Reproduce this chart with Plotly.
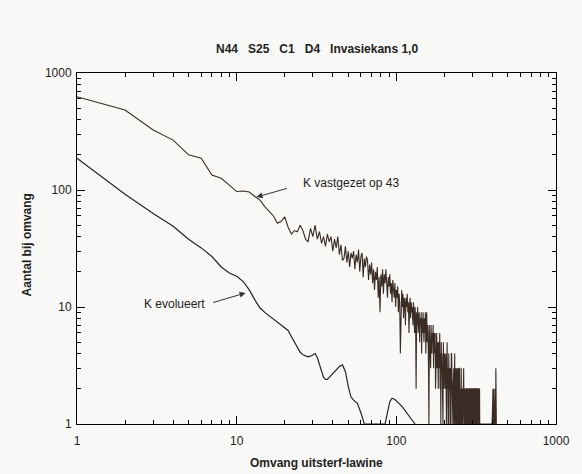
import plotly.graph_objects as go

# ---- data ----
# "K vastgezet op 43": count per avalanche size (integer sizes)
fixed_sizes = list(range(1, 334)) + list(range(398, 424))
fixed_counts = [
    # 1-100
    627, 483, 326, 267, 200, 187, 134, 126, 110, 97,
    98, 96, 88, 82, 72, 66, 60, 52, 54, 59,
    48, 42, 45, 44, 50, 45, 38, 36, 47, 40,
    50, 38, 44, 35, 40, 33, 42, 36, 40, 30,
    38, 32, 40, 28, 34, 25, 26, 33, 24, 30,
    22, 29, 26, 30, 21, 28, 24, 31, 20, 27,
    29, 18, 26, 22, 27, 25, 17, 23, 19, 24,
    16, 21, 14, 20, 17, 22, 12, 18, 9, 19,
    15, 21, 13, 19, 16, 21, 17, 12, 18, 15,
    19, 13, 16, 11, 17, 15, 12, 16, 10, 14,
    # 101-200
    12, 15, 9, 13, 11, 4, 12, 14, 10, 13,
    8, 12, 11, 7, 12, 10, 13, 9, 11, 6,
    10, 12, 8, 11, 9, 10, 7, 11, 9, 6,
    10, 8, 2, 9, 7, 10, 6, 8, 9, 5,
    8, 7, 9, 4, 8, 6, 9, 7, 5, 8,
    6, 9, 4, 7, 9, 5, 7, 6, 3, 1,
    7, 5, 6, 3, 7, 5, 4, 6, 5, 7,
    3, 6, 4, 5, 6, 2, 5, 4, 6, 3,
    5, 4, 2, 5, 3, 4, 6, 2, 4, 1,
    5, 3, 4, 2, 4, 1, 5, 3, 2, 4,
    # 201-250
    3, 3, 2, 4, 1, 1, 3, 5, 2, 3,
    1, 1, 4, 2, 3, 3, 1, 2, 3, 1,
    4, 4, 2, 3, 1, 1, 2, 3, 3, 1,
    2, 4, 1, 1, 2, 3, 2, 1, 1, 3,
    2, 2, 1, 3, 1, 1, 2, 3, 3, 1,
    # 251-290
    2, 2, 1, 1, 3, 1, 2, 2, 1, 1,
    1, 2, 2, 3, 1, 1, 2, 2, 1, 1,
    2, 1, 1, 1, 2, 2, 1, 1, 2, 2,
    1, 1, 1, 2, 2, 1, 1, 2, 2, 2,
    # 291-333
    1, 1, 2, 2, 2, 1, 1, 2, 2, 1,
    1, 1, 2, 2, 2, 2, 1, 1, 2, 2,
    1, 1, 2, 2, 1, 1, 1, 2, 2, 2,
    1, 1, 2, 2, 1, 1, 2, 2, 2, 1,
    1, 2, 1,
    # 398-423
    1, 2, 1, 2, 1, 2, 1, 1, 2, 1,
    1, 1, 1, 1, 1, 1, 1, 2, 1, 1,
    1, 1, 3, 1, 1, 1,
]

# "K evolueert": smoothed count per avalanche size
evol_sizes = [1, 2, 3, 4, 5, 6, 7, 8, 9, 10, 11, 12, 13, 14, 15, 16, 17, 18, 19, 20,
              21, 22, 23, 24, 25, 26, 27, 28, 29, 30, 31, 32, 33, 34, 35, 36, 37, 38, 39, 40,
              42, 44, 46, 48, 50, 52, 54, 57, 60, 63, 70, 80, 85, 88, 91, 94, 98, 104, 110,
              117, 124, 131]
evol_counts = [187, 92, 63, 49, 38, 32, 27, 22, 19.5, 18.3, 16.5, 14, 11.5, 9.8, 9.0, 8.4, 7.9, 7.4, 7.0, 6.7,
               6.3, 5.6, 5.0, 4.5, 4.1, 3.9, 3.8, 3.75, 3.8, 3.9, 4.0, 3.7, 3.2, 2.8, 2.5, 2.4, 2.4, 2.5, 2.6, 2.7,
               2.9, 3.1, 3.2, 2.8, 2.1, 1.7, 1.6, 1.5, 1.25, 1.0, 1.0, 1.0, 1.0, 1.25, 1.55, 1.66, 1.62, 1.5, 1.38,
               1.23, 1.1, 1.0]

decade_ticks = [1, 10, 100, 1000]
decade_labels = ["1", "10", "100", "1000"]

title_text = "N44\u00a0\u00a0\u00a0S25\u00a0\u00a0\u00a0C1\u00a0\u00a0\u00a0D4\u00a0\u00a0\u00a0Invasiekans 1,0"
x_title = "Omvang uitsterf-lawine"
y_title = "Aantal bij omvang"
label_fixed = "K vastgezet op 43"
label_evol = "K evolueert"

INK = "#2a2320"
BG = "#f8f8f6"
FONT = "Liberation Sans, Arial, Helvetica, sans-serif"

minor_ticks = [m * d for d in decade_ticks[:-1] for m in range(2, 10)]

fig = go.Figure()
fig.add_trace(go.Scatter(x=fixed_sizes, y=fixed_counts, mode="lines",
                         line=dict(color="#3a2c24", width=1.1), showlegend=False,
                         hoverinfo="skip"))
fig.add_trace(go.Scatter(x=evol_sizes, y=evol_counts, mode="lines",
                         line=dict(color=INK, width=1.2), showlegend=False,
                         hoverinfo="skip"))
# invisible trace to register the minor-tick overlay axes
fig.add_trace(go.Scatter(x=[decade_ticks[0]], y=[decade_ticks[0]], xaxis="x2", yaxis="y2",
                         mode="markers", marker=dict(opacity=0), showlegend=False,
                         hoverinfo="skip"))

base = dict(type="log", range=[0, 3],
            showline=True, linecolor="black", linewidth=1, mirror="allticks",
            ticks="inside", tickwidth=1, tickcolor="black",
            showgrid=False, zeroline=False)

fig.update_layout(
    width=582, height=474,
    margin=dict(l=77, r=22, t=73, b=50),
    paper_bgcolor=BG, plot_bgcolor=BG,
    font=dict(family=FONT, color="#222"),
    xaxis=dict(**base, tickmode="array", tickvals=decade_ticks, ticktext=decade_labels,
               ticklen=8, ticklabelstandoff=6,
               tickfont=dict(family=FONT, size=12, color="#222")),
    yaxis=dict(**base, tickmode="array", tickvals=decade_ticks, ticktext=decade_labels,
               ticklen=8, ticklabelstandoff=2,
               tickfont=dict(family=FONT, size=12, color="#222")),
    xaxis2=dict(**base, overlaying="x", anchor="y", side="bottom",
                tickmode="array", tickvals=minor_ticks, showticklabels=False, ticklen=4),
    yaxis2=dict(**base, overlaying="y", anchor="x", side="left",
                tickmode="array", tickvals=minor_ticks, showticklabels=False, ticklen=4),
    showlegend=False,
)

ann = []
ann.append(dict(text="<b>" + title_text + "</b>", xref="paper", yref="paper",
                x=0.5, y=1 + 24 / 351, xanchor="center", yanchor="middle",
                showarrow=False, font=dict(size=12, family=FONT, color="#222")))
ann.append(dict(text="<b>" + x_title + "</b>", xref="paper", yref="paper",
                x=0.5, y=-39 / 351, xanchor="center", yanchor="middle",
                showarrow=False, font=dict(size=12, family=FONT, color="#222")))
ann.append(dict(text="<b>" + y_title + "</b>", xref="paper", yref="paper",
                x=-50 / 483, y=0.51, xanchor="center", yanchor="middle", textangle=-90,
                showarrow=False, font=dict(size=12, family=FONT, color="#222")))
# labels
ann.append(dict(text=label_fixed, xref="paper", yref="paper",
                x=(303 - 77) / 483, y=(424 - 183) / 351, xanchor="left", yanchor="middle",
                showarrow=False, font=dict(size=12, family=FONT, color="#222")))
ann.append(dict(text=label_evol, xref="paper", yref="paper",
                x=(208 - 77) / 483, y=(424 - 304) / 351, xanchor="right", yanchor="middle",
                showarrow=False, font=dict(size=12, family=FONT, color="#222")))
# arrows
ann.append(dict(text="", x=1.124, y=1.94, xref="x", yref="y", showarrow=True,
                ax=32, ay=-9, arrowhead=2, arrowsize=1.2, arrowwidth=1, arrowcolor="#333"))
ann.append(dict(text="", x=1.056, y=1.12, xref="x", yref="y", showarrow=True,
                ax=-34, ay=10, arrowhead=2, arrowsize=1.2, arrowwidth=1, arrowcolor="#333"))
fig.update_layout(annotations=ann)

fig.write_html("out.html",
               config={"displayModeBar": False},
               post_script="document.body.style.margin='0px';document.body.style.background='%s';" % BG)
